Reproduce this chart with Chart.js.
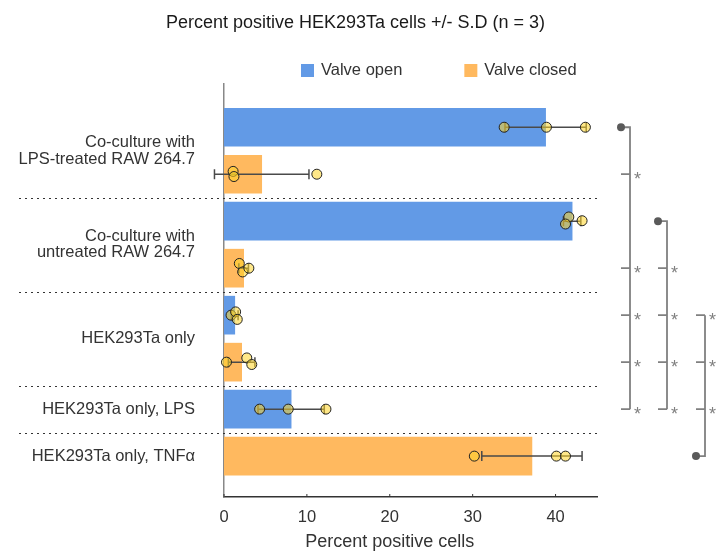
<!DOCTYPE html>
<html>
<head>
<meta charset="utf-8">
<script src="https://cdn.jsdelivr.net/npm/chart.js@4.4.0/dist/chart.umd.min.js"></script>
<style>
  html, body { margin: 0; padding: 0; background: #fff; }
  #wrap { width: 717px; height: 552px; }
</style>
</head>
<body>
<div id="wrap"><canvas id="chart"></canvas></div>
<script>
// rows are numbered top to bottom, 0..7
const categoryLabels = [
  ["Co-culture with", "LPS-treated RAW 264.7"],
  ["Co-culture with", "untreated RAW 264.7"],
  "HEK293Ta only",
  "HEK293Ta only, LPS",
  "HEK293Ta only, TNFα"
];
const categoryRows = [0.5, 2.5, 4.5, 6, 7];
const separatorRows = [1.5, 3.5, 5.5, 6.5];

const openRows = [0, 2, 4, 6];
const openMeans = [38.8, 42.0, 1.3, 8.1];
const openSD = [4.9, 1.05, 0.4, 4.0];

const closedRows = [1, 3, 5, 7];
const closedMeans = [4.55, 2.37, 2.13, 37.15];
const closedSD = [5.7, 0.58, 1.6, 6.05];

// replicates (n = 3) per row, plus small vertical jitter in row units
const replicateValues = [
  [33.8, 38.9, 43.6],
  [1.1, 1.2, 11.2],
  [41.6, 41.2, 43.2],
  [1.85, 2.25, 3.0],
  [0.85, 1.4, 1.6],
  [0.3, 2.75, 3.35],
  [4.3, 7.75, 12.3],
  [30.2, 40.1, 41.2]
];
const replicateJitter = [
  [0, 0, 0],
  [-0.06, 0.05, 0],
  [-0.09, 0.06, -0.01],
  [-0.1, 0.08, 0],
  [0, -0.07, 0.09],
  [0, -0.09, 0.05],
  [0, 0, 0],
  [0, 0, 0]
];

// significance brackets: reference row and the rows marked with *
const bracketRef = [0, 2, 7];
const bracketRows = [[1, 3, 4, 5, 6], [3, 4, 5, 6], [4, 5, 6]];

const xTicks = [0, 10, 20, 30, 40];

const chartTitle = "Percent positive HEK293Ta cells +/- S.D (n = 3)";
const xTitle = "Percent positive cells";

const FONT = "'Liberation Sans', Arial, sans-serif";
const openColor = "#629ae6";
const closedColor = "#ffb95f";

const errRows = openRows.concat(closedRows);
const errMeans = openMeans.concat(closedMeans);
const errSD = openSD.concat(closedSD);

const points = [];
replicateValues.forEach((vals, r) => {
  vals.forEach((v, k) => points.push({ x: v, y: r + replicateJitter[r][k] }));
});

const extras = {
  id: "extras",
  beforeDatasetDraw(chart, args) {
    if (args.meta.type !== "scatter") return;
    const { ctx } = chart;
    const xs = chart.scales.x, ys = chart.scales.y;
    ctx.save();
    ctx.strokeStyle = "#4a4a4a";
    ctx.lineWidth = 1.5;
    errRows.forEach((r, i) => {
      const py = ys.getPixelForValue(r);
      const x0 = xs.getPixelForValue(errMeans[i] - errSD[i]);
      const x1 = xs.getPixelForValue(errMeans[i] + errSD[i]);
      ctx.beginPath();
      ctx.moveTo(x0, py); ctx.lineTo(x1, py);
      ctx.moveTo(x0, py - 5); ctx.lineTo(x0, py + 5);
      ctx.moveTo(x1, py - 5); ctx.lineTo(x1, py + 5);
      ctx.stroke();
    });
    ctx.restore();
  },
  afterDraw(chart) {
    const { ctx, chartArea } = chart;
    const xs = chart.scales.x, ys = chart.scales.y;
    ctx.save();

    // title
    ctx.fillStyle = "#1a1a1a";
    ctx.font = "18px " + FONT;
    ctx.textAlign = "center";
    ctx.textBaseline = "alphabetic";
    ctx.fillText(chartTitle, 355.5, 28);

    // dotted separators between groups
    ctx.strokeStyle = "#333";
    ctx.lineWidth = 1;
    ctx.setLineDash([2, 4]);
    separatorRows.forEach(r => {
      const py = Math.round(ys.getPixelForValue(r)) + 0.5;
      ctx.beginPath();
      ctx.moveTo(19, py);
      ctx.lineTo(chartArea.right, py);
      ctx.stroke();
    });
    ctx.setLineDash([]);

    // small inward tick marks on x axis
    ctx.strokeStyle = "#333";
    xTicks.forEach(v => {
      const px = xs.getPixelForValue(v);
      ctx.beginPath();
      ctx.moveTo(px, chartArea.bottom - 3);
      ctx.lineTo(px, chartArea.bottom);
      ctx.stroke();
    });

    // x axis title, centred on the labelled ticks
    ctx.fillStyle = "#333";
    ctx.font = "18px " + FONT;
    const cx = (xs.getPixelForValue(xTicks[0]) + xs.getPixelForValue(xTicks[xTicks.length - 1])) / 2;
    ctx.fillText(xTitle, cx, chartArea.bottom + 50);

    // legend
    ctx.font = "16.5px " + FONT;
    ctx.textAlign = "left";
    ctx.textBaseline = "middle";
    let lx = chartArea.left + 77;
    const ly = 70.5;
    chart.data.datasets.filter(d => d.type === "bar").forEach(d => {
      ctx.fillStyle = d.backgroundColor;
      ctx.fillRect(lx, ly - 6.5, 13, 13);
      ctx.fillStyle = "#333";
      ctx.fillText(d.label, lx + 20, ly);
      lx += 20 + ctx.measureText(d.label).width + 62;
    });

    // significance brackets
    const offsets = [33, 70, 108];
    bracketRef.forEach((ref, b) => {
      const lineX = chartArea.right + offsets[b];
      const yRef = ys.getPixelForValue(ref);
      const ysCmp = bracketRows[b].map(r => ys.getPixelForValue(r));
      const far = ysCmp.reduce((a, v) => Math.abs(v - yRef) > Math.abs(a - yRef) ? v : a, yRef);
      ctx.strokeStyle = "#808080";
      ctx.lineWidth = 1.8;
      ctx.beginPath();
      ctx.moveTo(lineX - 9, yRef); ctx.lineTo(lineX, yRef);
      ctx.lineTo(lineX, far);
      ysCmp.forEach(py => { ctx.moveTo(lineX - 9, py); ctx.lineTo(lineX, py); });
      ctx.stroke();
      ctx.fillStyle = "#5a5a5a";
      ctx.beginPath();
      ctx.arc(lineX - 9, yRef, 4, 0, Math.PI * 2);
      ctx.fill();
      ctx.fillStyle = "#808080";
      ctx.font = "18px " + FONT;
      ctx.textBaseline = "alphabetic";
      ysCmp.forEach(py => ctx.fillText("*", lineX + 4, py + 11));
    });
    ctx.restore();
  }
};

new Chart(document.getElementById("chart"), {
  type: "bar",
  data: {
    datasets: [
      {
        type: "scatter",
        label: "Replicates",
        data: points,
        pointRadius: 5,
        pointBackgroundColor: "rgba(255, 214, 40, 0.55)",
        pointBorderColor: "#222",
        pointBorderWidth: 1,
        clip: false,
        order: 0
      },
      {
        type: "bar",
        label: "Valve open",
        data: openRows.map((r, i) => ({ x: openMeans[i], y: r })),
        backgroundColor: openColor,
        barThickness: 38,
        grouped: false,
        order: 1
      },
      {
        type: "bar",
        label: "Valve closed",
        data: closedRows.map((r, i) => ({ x: closedMeans[i], y: r })),
        backgroundColor: closedColor,
        barThickness: 38,
        grouped: false,
        order: 1
      }
    ]
  },
  options: {
    indexAxis: "y",
    responsive: true,
    maintainAspectRatio: false,
    animation: false,
    layout: { padding: { left: 0, right: 120, top: 84, bottom: 0 } },
    plugins: {
      legend: { display: false },
      tooltip: { enabled: false },
      title: { display: false }
    },
    scales: {
      x: {
        type: "linear",
        position: "bottom",
        min: 0,
        max: 45,
        offset: false,
        grid: { display: false, drawTicks: false },
        border: { color: "#333", width: 1.5 },
        ticks: { color: "#333", font: { size: 16.5, family: FONT }, padding: 11, autoSkip: false },
        afterBuildTicks: s => { s.ticks = xTicks.map(v => ({ value: v })); },
        afterFit: s => { s.height = 55; }
      },
      y: {
        type: "linear",
        position: "left",
        min: -0.92,
        max: 7.87,
        reverse: true,
        offset: false,
        grid: { display: false, drawTicks: false },
        border: { color: "#888", width: 1.5 },
        ticks: {
          color: "#333",
          font: { size: 16.5, family: FONT, lineHeight: 1.0 },
          padding: 29,
          autoSkip: false,
          callback: v => categoryLabels[categoryRows.indexOf(v)]
        },
        afterBuildTicks: s => { s.ticks = categoryRows.map(v => ({ value: v })); },
        afterFit: s => { s.width = 224; }
      }
    }
  },
  plugins: [extras]
});
</script>
</body>
</html>
